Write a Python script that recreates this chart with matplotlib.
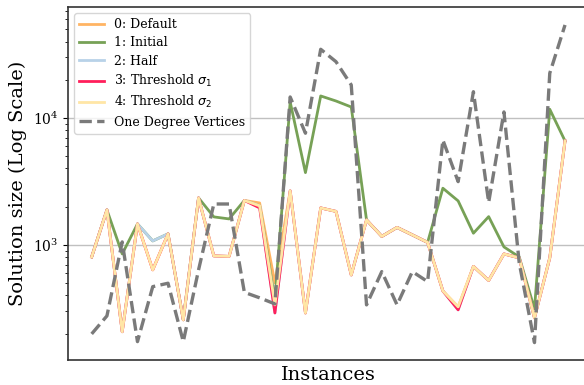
import matplotlib
matplotlib.use("Agg")
import matplotlib.pyplot as plt
import numpy as np

plt.rcParams['font.family'] = 'DejaVu Serif'

# solution sizes per instance for each variant
default = [804, 1886, 207, 1463, 636, 1221, 257, 2345, 819, 812, 2240, 2140, 502, 2663, 291, 1956,
           1836, 580, 1573, 1167, 1373, 1199, 1046, 434, 325, 677, 525, 849, 790, 266, 790, 6590]
initial = [804, 1886, 849, 1463, 1075, 1221, 257, 2345, 1662, 1602, 2240, 2028, 369, 13370, 3710, 14900,
           13600, 12200, 1573, 1167, 1373, 1199, 1046, 2796, 2221, 1236, 1670, 964, 804, 313, 11710, 6590]
half = [804, 1886, 207, 1463, 1075, 1221, 257, 2345, 819, 812, 2240, 2028, 291, 2663, 291, 1956,
        1836, 580, 1573, 1167, 1373, 1199, 1046, 434, 308, 677, 525, 849, 790, 266, 790, 6590]
thresh1 = [804, 1886, 207, 1463, 636, 1221, 257, 2345, 819, 812, 2240, 1956, 291, 2663, 291, 1956,
           1836, 580, 1573, 1167, 1373, 1199, 1046, 434, 308, 677, 525, 849, 790, 266, 790, 6590]
thresh2 = [804, 1886, 207, 1463, 636, 1221, 257, 2345, 819, 812, 2240, 2028, 337, 2663, 291, 1956,
           1836, 580, 1573, 1167, 1373, 1199, 1046, 434, 325, 677, 525, 849, 790, 266, 790, 6590]
one_degree = [199, 276, 1056, 173, 469, 499, 173, 636, 2100, 2100, 423, 383, 343, 14630, 7580, 34750,
              27740, 18200, 337, 616, 337, 616, 514, 6710, 3150, 16100, 2160, 11150, 722, 170, 22500, 54000]

labels = ['0: Default', '1: Initial', '2: Half', r'3: Threshold $\sigma_1$', r'4: Threshold $\sigma_2$']
colors = ['#ffb463', '#77a156', '#b8d2e8', '#ff1f5b', '#ffe6a6']

x = np.arange(len(default))

fig = plt.figure(figsize=(5.84, 3.85), dpi=100)
ax = fig.add_axes([68 / 584, 1 - 360 / 385, (589 - 68) / 584, (360 - 7) / 385])

for series, lab, col in zip([default, initial, half, thresh1, thresh2], labels, colors):
    ax.plot(x, series, label=lab, color=col, lw=2)
ax.plot(x, one_degree, '--', color='#7a7a7a', lw=2.4, label='One Degree Vertices')

ax.set_yscale('log')
ax.set_ylim(124, 74800)
ax.set_xlim(-1.55, 32.57)
ax.set_xticks([])
ax.grid(True, axis='y', which='major', color='#c0c0c0', lw=1)
ax.set_axisbelow(True)
for s in ax.spines.values():
    s.set_linewidth(1.2)
    s.set_color('#333333')
ax.set_xlabel('Instances', fontsize=14)
ax.set_ylabel('Solution size (Log Scale)', fontsize=14)
ax.legend(loc='upper left', fontsize=9, labelspacing=0.42)

fig.savefig('out.png', dpi=100)
